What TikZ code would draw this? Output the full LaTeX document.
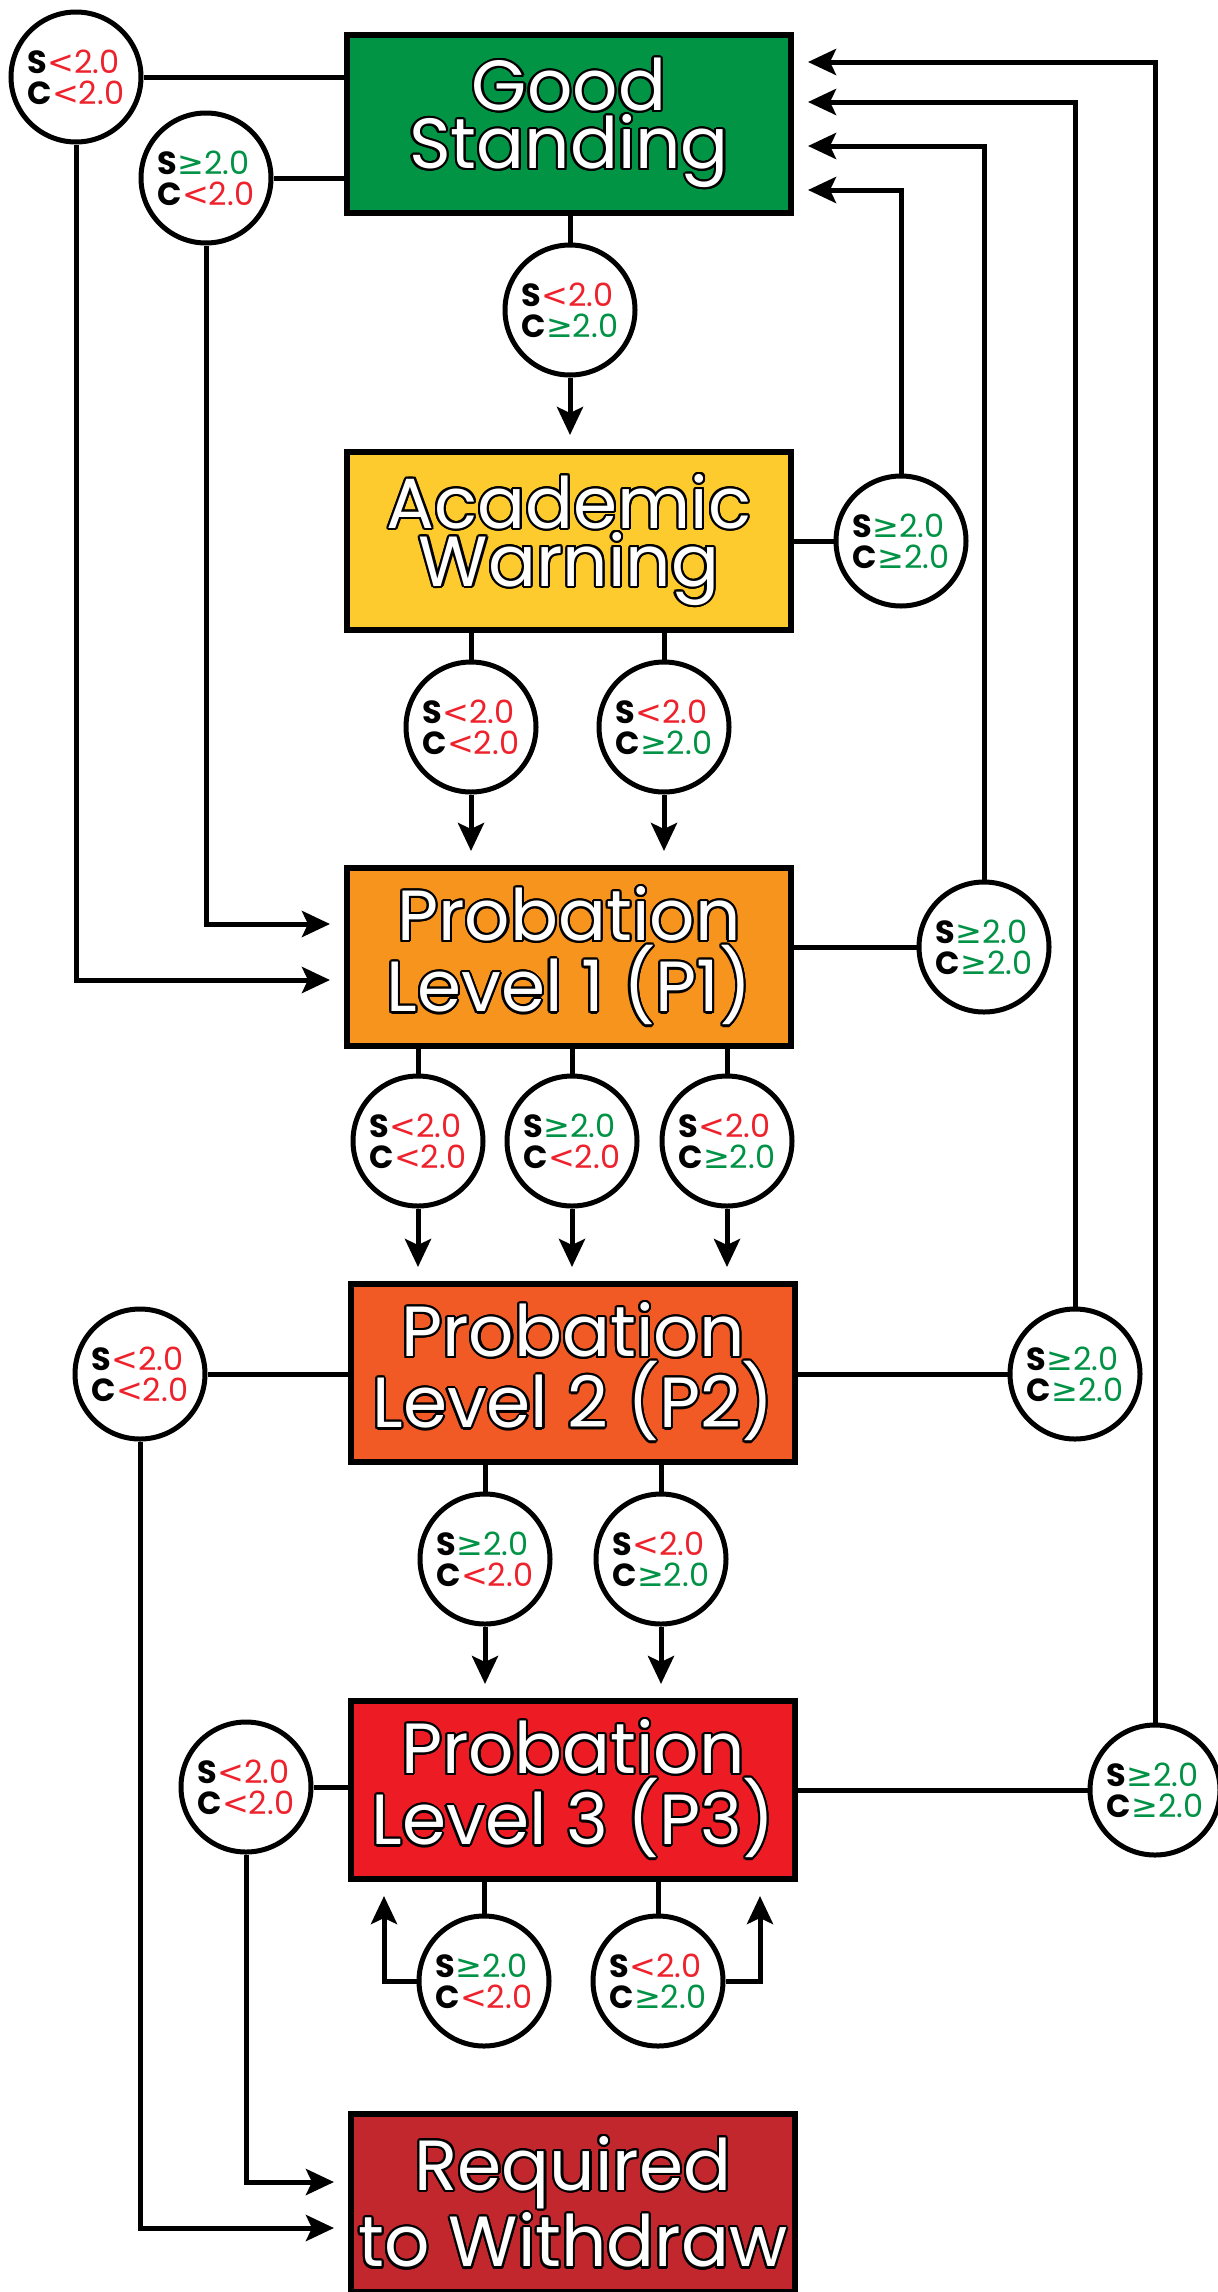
\documentclass[tikz,border=0pt]{standalone}
\usepackage{fontspec}
\setmainfont{Poppins}
\newfontfamily\gefont{DejaVu Sans}
\usepackage{contour}
\contourlength{1.1pt}
\usetikzlibrary{arrows.meta,positioning}

\definecolor{gsgreen}{RGB}{0,148,68}
\definecolor{awyellow}{RGB}{254,203,47}
\definecolor{ponecol}{RGB}{247,148,30}
\definecolor{ptwocol}{RGB}{241,90,36}
\definecolor{pthreecol}{RGB}{237,28,36}
\definecolor{rtwcol}{RGB}{193,39,45}
\definecolor{gpared}{RGB}{238,34,44}
\definecolor{gpagreen}{RGB}{0,146,69}

\newcommand{\lowgpa}{\textcolor{gpared}{{\gefont <}2.0}}
\newcommand{\highgpa}{\textcolor{gpagreen}{{\gefont ≥}2.0}}
\newcommand{\outl}[1]{\contour{black}{#1}}

\begin{document}
\begin{tikzpicture}[x=0.5pt,y=-0.5pt]
\tikzstyle{state}=[rectangle,draw,line width=3pt,minimum width=222pt,minimum height=89pt,text=white,align=center,font=\fontsize{35.5}{29}\selectfont]
\tikzstyle{gpa}=[circle,draw,fill=white,line width=2.5pt,minimum size=65pt,inner sep=0pt,align=left,font=\fontsize{16}{15.5}\selectfont]
\tikzstyle{link}=[line width=2.5pt]
\tikzstyle{arr}=[link,-{Stealth[length=14pt,width=13pt,inset=3pt]},shorten >=7pt]
\useasboundingbox (0,0) rectangle (1218,2292);

\node[state,fill=gsgreen] (gs) at (569,124) {\outl{Good}\\\outl{Standing}};
\node[state,fill=awyellow] (aw) at (569,541) {\outl{Academic}\\\outl{Warning}};
\node[state,fill=ponecol] (p1) at (569,957) {\outl{Probation}\\\outl{Level 1 (P1)}};
\node[state,fill=ptwocol] (p2) at (573,1373) {\outl{Probation}\\\outl{Level 2 (P2)}};
\node[state,fill=pthreecol] (p3) at (573,1790) {\outl{Probation}\\\outl{Level 3 (P3)}};
\node[state,fill=rtwcol] (rtw) at (573,2203) {\outl{Required}\\\outl{to Withdraw}};

\node[gpa] (cGSa) at (76,77) {\textbf{S}\lowgpa\\\textbf{C}\lowgpa};
\node[gpa] (cGSb) at (206,178) {\textbf{S}\highgpa\\\textbf{C}\lowgpa};
\node[gpa] (cGSd) at (570,310) {\textbf{S}\lowgpa\\\textbf{C}\highgpa};
\node[gpa] (cAWr) at (901,541) {\textbf{S}\highgpa\\\textbf{C}\highgpa};
\node[gpa] (cAWa) at (471,727) {\textbf{S}\lowgpa\\\textbf{C}\lowgpa};
\node[gpa] (cAWb) at (664,727) {\textbf{S}\lowgpa\\\textbf{C}\highgpa};
\node[gpa] (cP1r) at (984,947) {\textbf{S}\highgpa\\\textbf{C}\highgpa};
\node[gpa] (cP1a) at (418,1141) {\textbf{S}\lowgpa\\\textbf{C}\lowgpa};
\node[gpa] (cP1b) at (572,1141) {\textbf{S}\highgpa\\\textbf{C}\lowgpa};
\node[gpa] (cP1c) at (727,1141) {\textbf{S}\lowgpa\\\textbf{C}\highgpa};
\node[gpa] (cP2l) at (140,1374) {\textbf{S}\lowgpa\\\textbf{C}\lowgpa};
\node[gpa] (cP2r) at (1075,1374) {\textbf{S}\highgpa\\\textbf{C}\highgpa};
\node[gpa] (cP2a) at (485,1559) {\textbf{S}\highgpa\\\textbf{C}\lowgpa};
\node[gpa] (cP2b) at (661,1559) {\textbf{S}\lowgpa\\\textbf{C}\highgpa};
\node[gpa] (cP3l) at (246,1787) {\textbf{S}\lowgpa\\\textbf{C}\lowgpa};
\node[gpa] (cP3r) at (1155,1790) {\textbf{S}\highgpa\\\textbf{C}\highgpa};
\node[gpa] (cP3a) at (484,1981) {\textbf{S}\highgpa\\\textbf{C}\lowgpa};
\node[gpa] (cP3b) at (658,1981) {\textbf{S}\lowgpa\\\textbf{C}\highgpa};

\draw[link] (cGSa.east) -- (cGSa.east -| gs.west);
\draw[link] (cGSb.east) -- (cGSb.east -| gs.west);
\draw[arr] (cGSa.south) |- ([yshift=-11.5pt]p1.west);
\draw[arr] (cGSb.south) |- ([yshift=16.5pt]p1.west);
\draw[link] (gs.south -| cGSd) -- (cGSd.north);
\draw[arr] (cGSd.south) -- (cGSd.south |- aw.north);

\draw[link] (cAWr.west) -- (cAWr.west -| aw.east);
\draw[arr] (cAWr.north) |- ([yshift=-33pt]gs.east);
\draw[arr] (cP1r.north) |- ([yshift=-11pt]gs.east);
\draw[arr] (cP2r.north) |- ([yshift=11pt]gs.east);
\draw[arr] (cP3r.north) |- ([yshift=31pt]gs.east);

\draw[link] (aw.south -| cAWa) -- (cAWa.north);
\draw[link] (aw.south -| cAWb) -- (cAWb.north);
\draw[arr] (cAWa.south) -- (cAWa.south |- p1.north);
\draw[arr] (cAWb.south) -- (cAWb.south |- p1.north);

\draw[link] (cP1r.west) -- (cP1r.west -| p1.east);
\draw[link] (p1.south -| cP1a) -- (cP1a.north);
\draw[link] (p1.south -| cP1b) -- (cP1b.north);
\draw[link] (p1.south -| cP1c) -- (cP1c.north);
\draw[arr] (cP1a.south) -- (cP1a.south |- p2.north);
\draw[arr] (cP1b.south) -- (cP1b.south |- p2.north);
\draw[arr] (cP1c.south) -- (cP1c.south |- p2.north);

\draw[link] (cP2l.east) -- (cP2l.east -| p2.west);
\draw[link] (cP2r.west) -- (cP2r.west -| p2.east);
\draw[link] (p2.south -| cP2a) -- (cP2a.north);
\draw[link] (p2.south -| cP2b) -- (cP2b.north);
\draw[arr] (cP2a.south) -- (cP2a.south |- p3.north);
\draw[arr] (cP2b.south) -- (cP2b.south |- p3.north);
\draw[arr] (cP2l.south) |- ([yshift=-12.5pt]rtw.west);

\draw[link] (cP3l.east) -- (cP3l.east -| p3.west);
\draw[link] (cP3r.west) -- (cP3r.west -| p3.east);
\draw[link] (p3.south -| cP3a) -- (cP3a.north);
\draw[link] (p3.south -| cP3b) -- (cP3b.north);
\draw[arr] (cP3a.west) -| ([xshift=18pt]p3.south west);
\draw[arr] (cP3b.east) -| ([xshift=-19pt]p3.south east);
\draw[arr] (cP3l.south) |- ([yshift=10.5pt]rtw.west);
\end{tikzpicture}
\end{document}
